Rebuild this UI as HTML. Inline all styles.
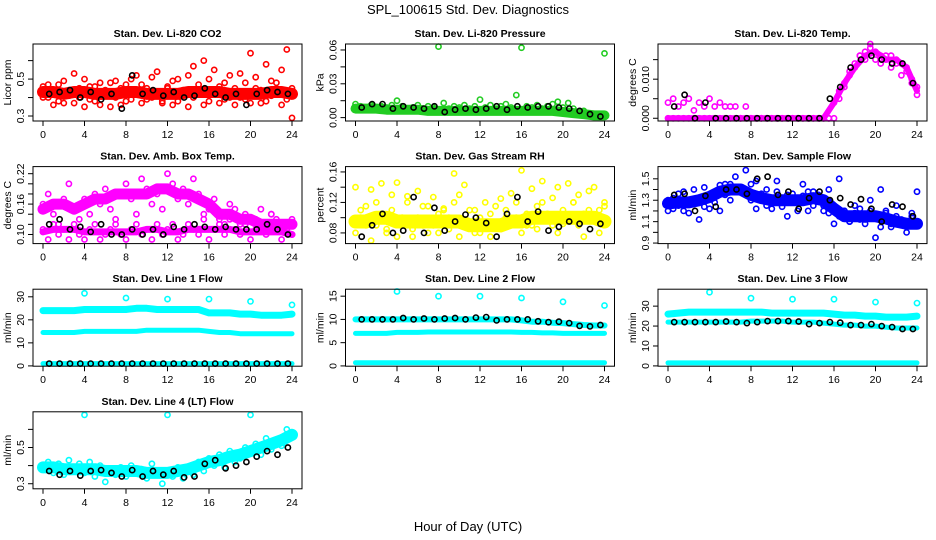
<!DOCTYPE html>
<html><head><meta charset="utf-8"><style>
html,body{margin:0;padding:0;background:#fff;}
svg{display:block;font-family:"Liberation Sans",Arial,sans-serif;}
</style></head><body>
<svg id="chart" width="936" height="540" viewBox="0 0 936 540">
<text x="468" y="14" text-anchor="middle" font-size="13">SPL_100615  Std. Dev. Diagnostics</text>
<text x="468" y="531" text-anchor="middle" font-size="13">Hour of Day (UTC)</text>
</svg>
<script>
// ---- data (hourly bands: 25 values 0..24; half-hourly points: 49 values; black points at hour i+0.6) ----
const xTicks = [0,4,8,12,16,20,24];
const co2Band = [0.43,0.43,0.42,0.43,0.43,0.42,0.42,0.42,0.43,0.43,0.42,0.42,0.42,0.42,0.43,0.43,0.43,0.43,0.42,0.42,0.42,0.42,0.43,0.43,0.42];
const co2A = [0.46,0.40,0.36,0.47,0.37,0.44,0.53,0.40,0.35,0.46,0.38,0.48,0.41,0.35,0.49,0.36,0.47,0.39,0.52,0.37,0.45,0.40,0.54,0.38,0.46,0.36,0.50,0.41,0.35,0.57,0.44,0.60,0.38,0.55,0.37,0.48,0.40,0.36,0.53,0.39,0.64,0.45,0.37,0.58,0.41,0.48,0.36,0.66,0.29];
const co2B = [0.40,0.47,0.44,0.38,0.49,0.41,0.37,0.45,0.50,0.39,0.46,0.36,0.44,0.48,0.40,0.45,0.38,0.50,0.42,0.47,0.39,0.51,0.43,0.37,0.45,0.49,0.38,0.44,0.52,0.40,0.47,0.36,0.50,0.42,0.46,0.39,0.52,0.45,0.40,0.48,0.37,0.51,0.44,0.38,0.49,0.42,0.55,0.39,0.45];
const co2K = [0.42,0.43,0.44,0.40,0.43,0.39,0.42,0.34,0.52,0.42,0.44,0.41,0.43,0.40,0.41,0.45,0.42,0.40,0.42,0.36,0.42,0.44,0.43,0.42];

const presBand = [0.008,0.008,0.008,0.007,0.007,0.007,0.007,0.006,0.006,0.006,0.006,0.006,0.006,0.006,0.006,0.006,0.006,0.006,0.006,0.006,0.005,0.004,0.003,0.002,0.002];
const presA = [0.012,0.010,0.009,0.011,0.008,0.010,0.009,0.011,0.015,0.010,0.008,0.009,0.011,0.008,0.010,0.009,0.063,0.013,0.008,0.010,0.009,0.011,0.008,0.010,0.016,0.009,0.011,0.008,0.010,0.012,0.009,0.020,0.062,0.010,0.009,0.011,0.008,0.010,0.012,0.014,0.009,0.013,0.008,0.004,0.006,0.003,0.002,0.001,0.057];
const presK = [0.009,0.012,0.012,0.008,0.010,0.009,0.008,0.010,0.005,0.007,0.008,0.007,0.008,0.010,0.007,0.010,0.009,0.010,0.010,0.009,0.008,0.006,0.003,0.001];

const tempBand = [0,0,0,0,0,0,0,0,0,0,0,0,0,0,0,0,0.004,0.009,0.013,0.016,0.017,0.015,0.015,0.013,0.007];
const tempA = [0.004,0.005,0.003,0.004,0.005,0.002,0.004,0.003,0.005,0.003,0.004,0.003,0.003,0.003,0,0.003,0,0,0,0,0,0,0,0,0,0,0,0,0,0,0,0,0.004,0.007,0.009,0.012,0.014,0.016,0.017,0.018,0.017,0.016,0.015,0.016,0.014,0.014,0.012,0.009,0.006];
const tempB = [0,0,0,0,0,0,0,0,0,0,0,0,0,0,0,0,0,0,0,0,0,0,0,0,0,0,0,0,0,0,0,0,0,0.005,0.008,0.011,0.013,0.016,0.015,0.019,0.015,0.014,0.016,0.013,0.015,0.011,0.013,0.010,0.008];
const tempK = [0.003,0.006,0,0.004,0,0,0,0,0,0,0,0,0,0,0,0.005,0.008,0.013,0.015,0.016,0.015,0.014,0.014,0.009];

const boxBandHi = [0.15,0.16,0.16,0.15,0.16,0.17,0.17,0.18,0.18,0.18,0.18,0.19,0.19,0.18,0.18,0.17,0.16,0.14,0.14,0.13,0.13,0.12,0.12,0.12,0.12];
const boxBandLo = [0.105,0.11,0.11,0.11,0.105,0.105,0.105,0.105,0.105,0.105,0.11,0.11,0.105,0.105,0.11,0.11,0.11,0.11,0.11,0.105,0.105,0.105,0.105,0.105,0.10];
const boxA = [0.16,0.18,0.14,0.12,0.17,0.20,0.15,0.13,0.17,0.14,0.18,0.16,0.19,0.15,0.13,0.18,0.20,0.17,0.14,0.21,0.19,0.16,0.18,0.15,0.22,0.20,0.17,0.19,0.16,0.21,0.18,0.14,0.15,0.17,0.13,0.12,0.16,0.15,0.12,0.14,0.13,0.11,0.15,0.12,0.14,0.13,0.11,0.12,0.13];
const boxB = [0.11,0.09,0.12,0.10,0.11,0.09,0.12,0.10,0.09,0.11,0.12,0.09,0.10,0.11,0.12,0.10,0.09,0.11,0.12,0.10,0.11,0.09,0.12,0.10,0.11,0.12,0.09,0.10,0.12,0.11,0.10,0.13,0.09,0.11,0.12,0.10,0.13,0.11,0.10,0.12,0.09,0.13,0.11,0.10,0.14,0.12,0.09,0.11,0.10];
const boxK = [0.12,0.13,0.11,0.115,0.105,0.12,0.10,0.10,0.11,0.10,0.11,0.10,0.115,0.11,0.12,0.115,0.11,0.115,0.11,0.11,0.11,0.12,0.11,0.10];

const rhBand = [0.095,0.095,0.10,0.10,0.095,0.095,0.095,0.095,0.095,0.095,0.095,0.09,0.09,0.09,0.09,0.095,0.095,0.10,0.10,0.10,0.10,0.10,0.10,0.10,0.095];
const rhA = [0.14,0.11,0.09,0.137,0.12,0.145,0.08,0.13,0.146,0.10,0.128,0.075,0.135,0.09,0.115,0.127,0.08,0.112,0.10,0.158,0.13,0.143,0.09,0.11,0.08,0.12,0.105,0.09,0.125,0.11,0.132,0.10,0.162,0.09,0.138,0.115,0.148,0.10,0.126,0.14,0.092,0.145,0.12,0.13,0.105,0.135,0.14,0.11,0.12];
const rhB = [0.08,0.10,0.115,0.07,0.09,0.105,0.085,0.11,0.075,0.095,0.12,0.085,0.10,0.115,0.08,0.09,0.105,0.11,0.085,0.12,0.075,0.095,0.11,0.08,0.10,0.09,0.075,0.115,0.085,0.10,0.095,0.12,0.08,0.105,0.09,0.085,0.12,0.105,0.09,0.08,0.11,0.10,0.12,0.09,0.075,0.11,0.10,0.08,0.115];
const rhK = [0.075,0.09,0.105,0.08,0.083,0.127,0.08,0.113,0.083,0.095,0.104,0.10,0.093,0.075,0.105,0.127,0.095,0.108,0.083,0.088,0.095,0.092,0.085,0.092];

const flowBand = [1.27,1.28,1.28,1.30,1.33,1.38,1.40,1.40,1.35,1.32,1.30,1.30,1.30,1.30,1.32,1.30,1.22,1.15,1.15,1.15,1.15,1.13,1.10,1.08,1.08];
const flowA = [1.20,1.32,1.25,1.38,1.18,1.30,1.12,1.42,1.22,1.35,1.20,1.45,1.30,1.52,1.38,1.58,1.45,1.48,1.32,1.40,1.22,1.48,1.30,1.15,1.36,1.28,1.45,1.20,1.38,1.35,1.25,1.40,1.08,1.50,1.20,1.10,1.25,1.12,1.08,1.30,0.95,1.40,1.20,1.05,1.25,1.10,1.00,1.18,1.38];
const flowB = [1.30,1.22,1.36,1.20,1.28,1.40,1.30,1.24,1.33,1.28,1.44,1.35,1.45,1.38,1.42,1.35,1.30,1.22,1.36,1.25,1.30,1.38,1.24,1.35,1.30,1.20,1.34,1.38,1.25,1.30,1.20,1.18,1.22,1.15,1.20,1.10,1.18,1.22,1.12,1.20,1.15,1.05,1.18,1.08,1.15,1.12,1.05,1.15,1.10];
const flowK = [1.35,1.36,1.20,1.34,1.24,1.40,1.40,1.36,1.50,1.52,1.35,1.38,1.22,1.32,1.38,1.30,1.32,1.26,1.31,1.22,1.10,1.26,1.24,1.15];

const outlierHours = [4,8,12,16,20,24];
const l1Hi = [24,24,24,24,24.5,24.5,24.5,24.5,24.5,25,25,24.5,24.5,24.5,24.5,24.5,23,23,23,22.5,22.5,22,22,22,22.5];
const l1Mid = [14.5,14.5,14.5,14.5,15,15,15,15,15,15,15.5,15.5,15.5,15.5,15.5,15.5,15,14.5,14.5,14,14,14,14,14,14];
const l1Lo = [1,1,1,1,1,1,1,1,1,1,1,1,1,1,1,1,1,1,1,1,1,1,1,1,1];
const l1Out = [31.5,29.5,29,29,28,26.5];
const l1K = [1,1,1,1,1,1,1,1,1,1,1,1,1,1,1,1,1,1,1,1,1,1,1,1];

const l2Hi = [10,10,10,10,10,10,10,10,10,10,10,10,10,10,10,10,9.8,9.5,9.5,9.3,9.2,9,8.8,8.7,8.7];
const l2Mid = [7,7,7,7,7.2,7.2,7.2,7.3,7.3,7.3,7.3,7.3,7.3,7.3,7.3,7.3,7.2,7.2,7.1,7.1,7.0,7.0,7.0,7.0,7.0];
const l2Lo = [0.7,0.7,0.7,0.7,0.7,0.7,0.7,0.7,0.7,0.7,0.7,0.7,0.7,0.7,0.7,0.7,0.7,0.7,0.7,0.7,0.7,0.7,0.7,0.7,0.7];
const l2Out = [16,15,15,14.6,13.8,13];
const l2K = [10,10,10,10,10.3,10,10.2,10,10.2,10.3,10,10.4,10.5,9.8,10,10,10,9.6,9.4,9.5,9.2,8.6,8.5,8.8];

const l3Hi = [26,26.5,27,27,27,27,27,27,27,27,26.5,26.5,26.5,26.5,26.5,26.5,26,25.5,25.5,25,25,24.5,24.5,24.5,25];
const l3Mid = [22,22,22,22,22,22,22,22,22.5,22.5,22.5,22.5,22,22,22,21.5,21,20.5,20.5,20,20,19.5,19,19,19];
const l3Lo = [1.5,1.5,1.5,1.5,1.5,1.5,1.5,1.5,1.5,1.5,1.5,1.5,1.5,1.5,1.5,1.5,1.5,1.5,1.5,1.5,1.5,1.5,1.5,1.5,1.5];
const l3Out = [37,34,33.5,33.5,32,31.5];
const l3K = [22,22,22,22,22,22.3,22,21.5,22,22.5,22.5,22.5,22.3,21,21.5,22,21.7,20.5,20.5,21,20,19.5,18.5,18.5];

const l4Band = [0.39,0.39,0.38,0.38,0.38,0.38,0.37,0.37,0.37,0.37,0.36,0.36,0.36,0.37,0.38,0.40,0.42,0.43,0.45,0.46,0.48,0.50,0.52,0.54,0.57];
const l4A = [0.40,0.42,0.36,0.41,0.35,0.43,0.37,0.41,0.36,0.42,0.34,0.40,0.31,0.38,0.35,0.39,0.34,0.40,0.36,0.38,0.33,0.41,0.35,0.30,0.37,0.34,0.39,0.33,0.38,0.35,0.42,0.37,0.44,0.40,0.46,0.39,0.48,0.42,0.44,0.50,0.47,0.52,0.46,0.55,0.49,0.53,0.51,0.60,0.58];
const l4Out = [0.68,0.68,0.68];
const l4OutHours = [4,12,20];
const l4K = [0.37,0.35,0.37,0.345,0.37,0.375,0.36,0.34,0.375,0.34,0.37,0.35,0.37,0.335,0.34,0.41,0.43,0.385,0.40,0.42,0.45,0.48,0.46,0.50];

// ---- rendering ----
const NS = 'http://www.w3.org/2000/svg';
const svg = document.getElementById('chart');
function mk(tag, attrs, parent){
  const e = document.createElementNS(NS, tag);
  for (const k in attrs) e.setAttribute(k, attrs[k]);
  (parent||svg).appendChild(e);
  return e;
}
const hourly = i => i;
const half = i => i*0.5;
const blackX = i => i + 0.6;

function drawPanel(p){
  const L = 33 + p.col*312.5, T = 44 + p.row*122.6, W = 269, H = 77;
  const g = mk('g', {});
  
  
  const sx = h => L + 10 + h/24*249;
  const sy = v => T + H - (v - p.ymin)/(p.ymax - p.ymin)*H;
  const cg = mk('g', {}, g);
  (p.bands||[]).forEach(b => {
    const d = b.ys.map((v,i)=>(i?'L':'M')+sx(hourly(i)).toFixed(1)+' '+sy(v).toFixed(1)).join(' ');
    const e = mk('path', {d:d, fill:'none', stroke:b.c, 'stroke-width':b.w, 'stroke-linecap':'round','stroke-linejoin':'round'}, cg);
    
    
  });
  (p.pts||[]).forEach(s => {
    s.ys.forEach((v,i) => {
      const x = s.xs ? s.xs[i] : s.fx(i);
      const e = mk('circle', {cx:sx(x).toFixed(1), cy:sy(v).toFixed(1), r:2.6, fill:'none', stroke:s.c, 'stroke-width':1.6}, cg);
      
      
    });
  });
  const box = mk('rect', {x:L, y:T, width:W, height:H, fill:'none', stroke:'#000', 'stroke-width':1}, g);
  
  
  xTicks.forEach(t => {
    mk('line', {x1:sx(t), x2:sx(t), y1:T+H, y2:T+H+5, stroke:'#000'}, g);
    const tx = mk('text', {x:sx(t), y:T+H+17, 'text-anchor':'middle', 'font-size':10.5}, g);
    tx.textContent = t;
    
    
  });
  p.yt.forEach((t,i) => {
    const y = sy(t);
    mk('line', {x1:L, x2:L-5, y1:y, y2:y, stroke:'#000'}, g);
    if (p.yl[i]) {
      const tx = mk('text', {x:0, y:0, transform:'translate('+(L-9)+','+y+') rotate(-90)', 'text-anchor':'middle', 'font-size':10.5}, g);
      tx.textContent = p.yl[i];
      
      
    }
  });
  const tt = mk('text', {x:L+W/2, y:T-7, 'text-anchor':'middle', 'font-size':10.5, 'font-weight':'bold'}, g);
  tt.textContent = p.title;
  
  
  const yl = mk('text', {x:0, y:0, transform:'translate('+(L-22)+','+(T+H/2)+') rotate(-90)', 'text-anchor':'middle', 'font-size':10.5}, g);
  yl.textContent = p.ylab;
  
  
}

const RED='#ff0000', GRN='#22cc22', MAG='#ff00ff', YEL='#ffff00', BLU='#0000ff', CYN='#00ffff', BLK='#000000';
const panels = [
 {name:'co2', col:0,row:0,title:'Stan. Dev. Li-820 CO2',ylab:'Licor ppm',ymin:0.273,ymax:0.69,yt:[0.3,0.4,0.5,0.6],yl:['0.3','','0.5',''],
  bands:[{ys:co2Band,c:RED,w:12}],pts:[{ys:co2A,c:RED,fx:half},{ys:co2B,c:RED,fx:half},{ys:co2K,c:BLK,fx:blackX}]},
 {name:'pressure', col:1,row:0,title:'Stan. Dev. Li-820 Pressure',ylab:'kPa',ymin:-0.003,ymax:0.0653,yt:[0,0.015,0.03,0.045,0.06],yl:['0.00','','0.03','','0.06'],
  bands:[{ys:presBand,c:GRN,w:10}],pts:[{ys:presA,c:GRN,fx:half},{ys:presK,c:BLK,fx:blackX}]},
 {name:'li820-temp', col:2,row:0,title:'Stan. Dev. Li-820 Temp.',ylab:'degrees C',ymin:-0.0007,ymax:0.019,yt:[0,0.005,0.01,0.015],yl:['0.000','','0.010',''],
  bands:[{ys:tempBand,c:MAG,w:6}],pts:[{ys:tempA,c:MAG,fx:half},{ys:tempB,c:MAG,fx:half},{ys:tempK,c:BLK,fx:blackX}]},
 {name:'amb-box-temp', col:0,row:1,title:'Stan. Dev. Amb. Box Temp.',ylab:'degrees C',ymin:0.082,ymax:0.234,yt:[0.10,0.12,0.14,0.16,0.18,0.20,0.22],yl:['0.10','','','0.16','','','0.22'],
  bands:[{ys:boxBandHi,c:MAG,w:11},{ys:boxBandLo,c:MAG,w:7}],pts:[{ys:boxA,c:MAG,fx:half},{ys:boxB,c:MAG,fx:half},{ys:boxK,c:BLK,fx:blackX}]},
 {name:'gas-stream-rh', col:1,row:1,title:'Stan. Dev. Gas Stream RH',ylab:'percent',ymin:0.066,ymax:0.167,yt:[0.08,0.10,0.12,0.14,0.16],yl:['0.08','','0.12','','0.16'],
  bands:[{ys:rhBand,c:YEL,w:14}],pts:[{ys:rhA,c:YEL,fx:half},{ys:rhB,c:YEL,fx:half},{ys:rhK,c:BLK,fx:blackX}]},
 {name:'sample-flow', col:2,row:1,title:'Stan. Dev. Sample Flow',ylab:'ml/min',ymin:0.895,ymax:1.614,yt:[0.9,1.0,1.1,1.2,1.3,1.4,1.5],yl:['0.9','','1.1','','1.3','','1.5'],
  bands:[{ys:flowBand,c:BLU,w:12}],pts:[{ys:flowA,c:BLU,fx:half},{ys:flowB,c:BLU,fx:half},{ys:flowK,c:BLK,fx:blackX}]},
 {name:'line1-flow', col:0,row:2,title:'Stan. Dev. Line 1 Flow',ylab:'ml/min',ymin:-0.13,ymax:33.3,yt:[0,10,20,30],yl:['0','10','20','30'],
  bands:[{ys:l1Hi,c:CYN,w:7},{ys:l1Mid,c:CYN,w:5},{ys:l1Lo,c:CYN,w:5}],pts:[{ys:l1Out,c:CYN,xs:outlierHours},{ys:l1K,c:BLK,fx:blackX}]},
 {name:'line2-flow', col:1,row:2,title:'Stan. Dev. Line 2 Flow',ylab:'ml/min',ymin:-0.06,ymax:16.5,yt:[0,5,10,15],yl:['0','5','10','15'],
  bands:[{ys:l2Hi,c:CYN,w:6},{ys:l2Mid,c:CYN,w:5},{ys:l2Lo,c:CYN,w:5}],pts:[{ys:l2Out,c:CYN,xs:outlierHours},{ys:l2K,c:BLK,fx:blackX}]},
 {name:'line3-flow', col:2,row:2,title:'Stan. Dev. Line 3 Flow',ylab:'ml/min',ymin:-0.15,ymax:38.5,yt:[0,10,20,30],yl:['0','10','20','30'],
  bands:[{ys:l3Hi,c:CYN,w:7},{ys:l3Mid,c:CYN,w:5},{ys:l3Lo,c:CYN,w:5}],pts:[{ys:l3Out,c:CYN,xs:outlierHours},{ys:l3K,c:BLK,fx:blackX}]},
 {name:'line4-flow', col:0,row:3,title:'Stan. Dev. Line 4 (LT) Flow',ylab:'ml/min',ymin:0.272,ymax:0.697,yt:[0.3,0.4,0.5,0.6],yl:['0.3','','0.5',''],
  bands:[{ys:l4Band,c:CYN,w:12}],pts:[{ys:l4A,c:CYN,fx:half},{ys:l4Out,c:CYN,xs:l4OutHours},{ys:l4K,c:BLK,fx:blackX}]}
];
panels.forEach(drawPanel);
</script>
</body></html>
